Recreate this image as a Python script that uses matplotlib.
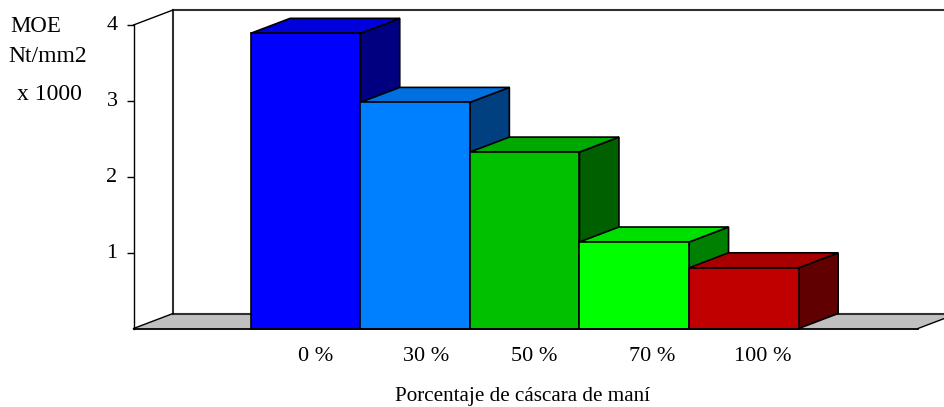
import matplotlib
matplotlib.use('Agg')
import matplotlib.pyplot as plt
from matplotlib.patches import Polygon
from matplotlib.transforms import ScaledTranslation

plt.rcParams['font.family'] = ['Liberation Serif', 'DejaVu Serif']

categorias = ['0 %', '30 %', '50 %', '70 %', '100 %']
moe = [3.89, 2.98, 2.325, 1.14, 0.80]
frente = ['#0000FF', '#0080FF', '#00C000', '#00FF00', '#C00000']
tapa = ['#0000DC', '#0070E0', '#00A800', '#00E000', '#A80000']
lado = ['#000080', '#004080', '#006000', '#008000', '#600000']
yticks = [1, 2, 3, 4]

W, H = 944, 407
fig = plt.figure(figsize=(W / 100, H / 100), dpi=100)
ax = fig.add_axes([133.5 / W, (H - 328.5) / H, (918 - 133.5) / W, 303.5 / H])
ax.set_xlim(-1.569, 5.589)
ax.set_ylim(0, 4)
ax.patch.set_visible(False)

# profundidad del efecto 3D
dx = 39.5 / 109.6
dy = 15 / 75.9
x0, x1 = ax.get_xlim()
oscuro = '#303030'

# piso y paredes
ax.add_patch(Polygon([(x0, 0), (x1, 0), (x1 + dx, dy), (x0 + dx, dy)], fc='#C0C0C0', ec='none', clip_on=False, zorder=1))
ax.plot([x0 + dx, x1 + dx], [dy, dy], color=oscuro, lw=1.5, clip_on=False, zorder=2)
ax.plot([x0 + dx, x0 + dx], [dy, 4 + dy], color=oscuro, lw=1.5, clip_on=False, zorder=2)
ax.plot([x0 + dx, x1 + dx], [4 + dy, 4 + dy], color=oscuro, lw=1.5, clip_on=False, zorder=2)
ax.plot([x0, x0 + dx], [4, 4 + dy], color='black', lw=1, clip_on=False, zorder=2)
ax.plot([x0, x0 + dx], [0, dy], color='black', lw=1, clip_on=False, zorder=2)
ax.plot([x1, x1 + dx], [0, dy], color='black', lw=1, clip_on=False, zorder=2)

# barras de izquierda a derecha, la siguiente tapa el lado de la anterior
for i, v in enumerate(moe):
    z = 3 + i
    izq, der = i - 0.5, i + 0.5
    ax.add_patch(Polygon([(der, 0), (der + dx, dy), (der + dx, v + dy), (der, v)],
                         fc=lado[i], ec='black', lw=1.2, clip_on=False, zorder=z))
    ax.add_patch(Polygon([(izq, v), (der, v), (der + dx, v + dy), (izq + dx, v + dy)],
                         fc=tapa[i], ec='black', lw=1.2, clip_on=False, zorder=z))
    ax.bar(i, v, width=1, color=frente[i], edgecolor='black', linewidth=1.2, zorder=z, clip_on=False)

for s in ['top', 'right']:
    ax.spines[s].set_visible(False)
ax.spines['left'].set_linewidth(1)
ax.spines['bottom'].set_linewidth(1.3)
ax.spines['bottom'].set_zorder(10)

ax.set_yticks(yticks)
ax.set_yticklabels([str(t) for t in yticks], fontsize=16)
ax.tick_params(axis='y', length=5, width=1, pad=6.5)
# las etiquetas del original suben un poco respecto a la marca
for lab in ax.get_yticklabels():
    lab.set_transform(lab.get_transform() + ScaledTranslation(0, 1.5 / 100, fig.dpi_scale_trans))

# las etiquetas del original no quedan centradas bajo las barras
corrimiento = [0.09, 0.10, 0.09, 0.16, 0.17]
ax.set_xticks([i + c for i, c in enumerate(corrimiento)])
ax.set_xticklabels(categorias, fontsize=16)
ax.tick_params(axis='x', length=0, pad=13)

fig.text(35.5 / W, 1 - 26 / H, 'MOE', fontsize=16.5, ha='center', va='center')
fig.text(47.5 / W, 1 - 56 / H, 'Nt/mm2', fontsize=17, ha='center', va='center')
fig.text(49.5 / W, 1 - 94 / H, 'x 1000', fontsize=17, ha='center', va='center')
fig.text(522.5 / W, 1 - 397 / H, 'Porcentaje de cáscara de maní', fontsize=15.2, ha='center', va='center')

fig.savefig('out.png', dpi=100)
